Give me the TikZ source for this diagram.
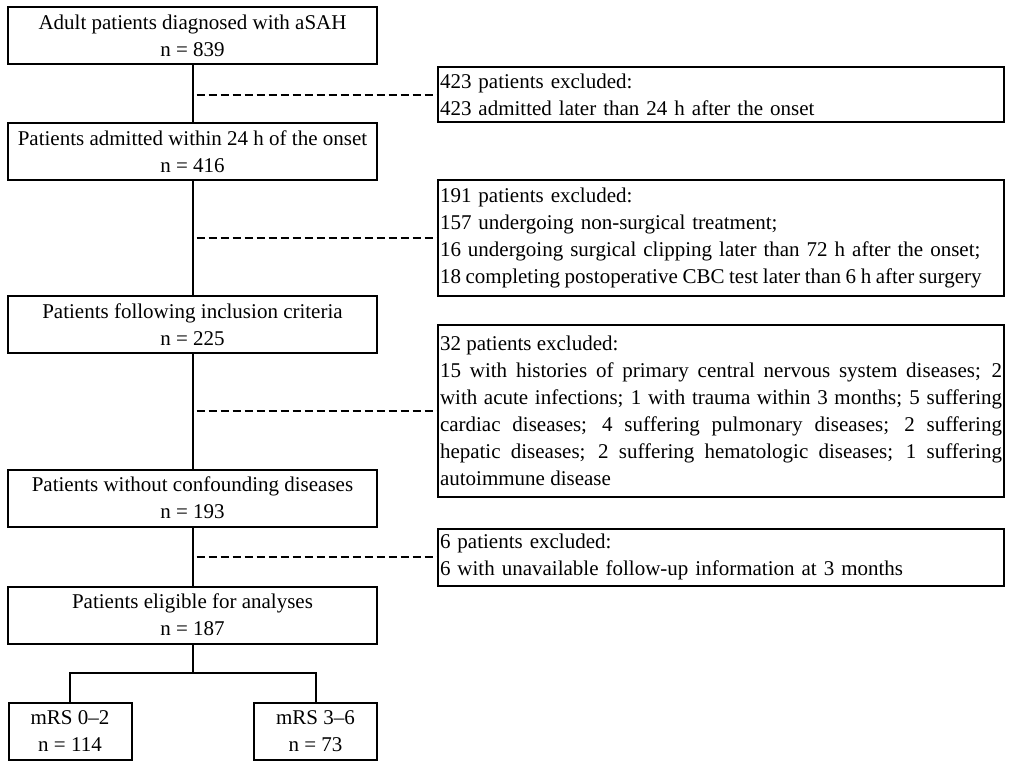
\documentclass[tikz,border=0pt]{standalone}
\usepackage{fontspec}
\setmainfont{Liberation Serif}
\usepackage{tikz}

\begin{document}
\begin{tikzpicture}[x=0.5pt,y=-0.5pt,line width=1pt,
            font=\fontsize{10.5}{13.5}\selectfont,
            stage/.style={draw,minimum width=184.5pt,minimum height=28.5pt,
              align=center,inner sep=1pt},
            group/.style={draw,minimum width=61.5pt,minimum height=28.5pt,
              align=center,inner sep=1pt},
            excl/.style={draw,anchor=west,text width=281pt,inner xsep=1pt,
              inner ysep=2pt},
            dashline/.style={dash pattern=on 4pt off 2pt,shorten <=2pt}]

          \useasboundingbox (0,0) rectangle (1013,765);

          \node[stage] (adult)    at (192.5, 35.5) {Adult patients diagnosed with aSAH\\n = 839};
          \node[stage] (admit)    at (192.5,152.0) {Patients admitted within 24 h of the onset\\n = 416};
          \node[stage] (incl)     at (192.5,324.5) {Patients following inclusion criteria\\n = 225};
          \node[stage] (noconf)   at (192.5,498.0) {Patients without confounding diseases\\n = 193};
          \node[stage] (eligible) at (192.5,615.0) {Patients eligible for analyses\\n = 187};
          \node[group] (good)     at ( 70.0,731.0) {mRS 0--2\\n = 114};
          \node[group] (poor)     at (315.5,731.0) {mRS 3--6\\n = 73};

          \node[excl,align=left,minimum height=27.5pt] (exA) at (437, 95) {423 patients excluded:\\
            423 admitted later than 24 h after the onset};
          \node[excl,align=left,minimum height=58pt] (exB) at (437,238) {191 patients excluded:\\
            157 undergoing non-surgical treatment;\\
            16 undergoing surgical clipping later than 72 h after the onset;\\
            {\spaceskip=0.22em\relax\mbox{18 completing postoperative CBC test later than 6 h after surgery}}};
          \node[excl,align=justify,minimum height=86pt] (exC) at (437,411) {32 patients excluded:\\
            15 with histories of primary central nervous system diseases; 2\linebreak
            with acute infections; 1 with trauma within 3 months; 5 suffering\linebreak
            cardiac diseases; 4 suffering pulmonary diseases; 2 suffering\linebreak
            hepatic diseases; 2 suffering hematologic diseases; 1 suffering\linebreak
            autoimmune disease};
          \node[excl,align=left,minimum height=28.5pt] (exD) at (437,557) {6 patients excluded:\\
            6 with unavailable follow-up information at 3 months};

          \coordinate (split) at (192.5,673);

          \path (adult)    edge (admit)
                (admit)    edge (incl)
                (incl)     edge (noconf)
                (noconf)   edge (eligible)
                (eligible) edge (split);
          \draw (split) -| (good.north);
          \draw (split) -| (poor.north);

          \draw[dashline] (exA.west -| adult.south) -- (exA.west);
          \draw[dashline] (exB.west -| admit.south) -- (exB.west);
          \draw[dashline] (exC.west -| incl.south)  -- (exC.west);
          \draw[dashline] (exD.west -| noconf.south) -- (exD.west);
        \end{tikzpicture}
\end{document}
